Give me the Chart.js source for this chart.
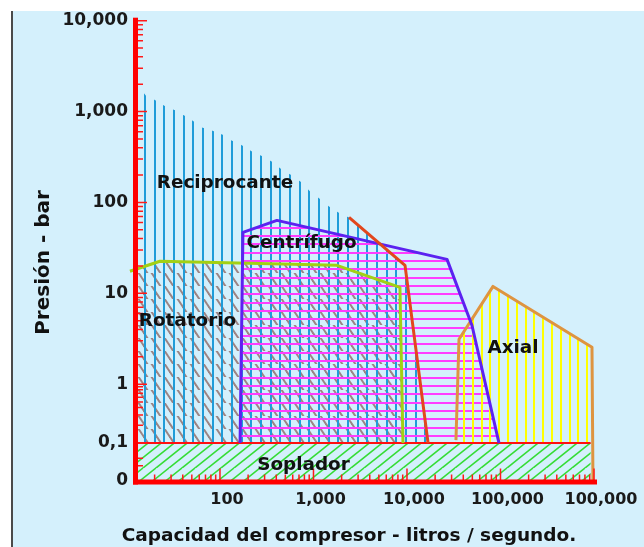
<!DOCTYPE html>
<html><head><meta charset="utf-8">
<script src="https://cdn.jsdelivr.net/npm/chart.js@4.4.1/dist/chart.umd.min.js"></script>
<style>html,body{margin:0;padding:0;background:#fff;overflow:hidden}canvas{display:block}</style>
</head><body>
<canvas id="c" width="644" height="547" style="width:644px;height:547px"></canvas>
<script>
// ---- axis ticks ----
const xTickValues = [100, 1000, 10000, 100000, 1000000];
const xTickLabels = ['100', '1,000', '10,000', '100,000', '100,000'];
const yTickValues = [0, 0.1, 1, 10, 100, 1000, 10000];
const yTickLabels = ['0', '0,1', '1', '10', '100', '1,000', '10,000'];

// ---- regions (capacity l/s, pressure bar) ----
const recipTopQ = [14.3, 16.4, 19.7, 26.2, 33.6, 49, 64.1, 82, 112, 133, 166, 220, 288, 357, 457, 589, 748, 919, 1146, 1466, 1919];
const recipTopP = [1745, 1462, 1355, 1135, 1025, 817, 667, 618, 545, 480, 434, 363, 320, 282, 231, 198, 166, 132, 111, 90.4, 75.7];
const recipLimitQ = [2400, 9530, 16800];
const recipLimitP = [68.4, 20.3, 0.1];
const centQ = [164, 176, 407, 26800, 49500, 96400];
const centP = [0.1, 46.8, 63.4, 23.6, 4.45, 0.1];
const rotQ = [10.9, 22.8, 1782, 8410, 9060];
const rotP = [17.5, 22.5, 20.3, 11.6, 0.1];
const axialQ = [33400, 36000, 83200, 952000, 975000];
const axialP = [0.112, 3.12, 11.9, 2.55, 0];
const soplQ = [12.49, 920000];
const soplP = [0, 0.1];

const regionNames = ['Reciprocante', 'Centrífugo', 'Rotatorio', 'Axial', 'Soplador'];
const regionLabelQ = [113, 745, 44.9, 136000, 782];
const regionLabelP = [142.5, 31.2, 4.34, 2.19, 0.0277];

// ---- pressure axis transform (log above 0.1, compressed, linear below 0.1) ----
function T(p) {
  if (p >= 1) return Math.log10(p);
  if (p >= 0.1) return Math.log10(p) * (59 / 91);
  return -(59 / 91) - (0.1 - p) / 0.1 * (38 / 91);
}
const XMIN = 12.49, XMAX = 1.077e6;
const YMIN = T(0), YMAX = 4.033;

const canvas = document.getElementById('c');
const ctx0 = canvas.getContext('2d');

function tile(w, h, draw) {
  const c = document.createElement('canvas'); c.width = w; c.height = h;
  draw(c.getContext('2d'), w, h); return c;
}
function pattern(c, tx, ty) {
  const p = ctx0.createPattern(c, 'repeat');
  p.setTransform(new DOMMatrix([1, 0, 0, 1, tx, ty]));
  return p;
}
function diagTile(period, n, slope, dir, color, width) {
  const W = period * n, H = Math.round(slope * W);
  return tile(W, H, (g) => {
    g.strokeStyle = color; g.lineWidth = width; g.lineCap = 'butt';
    for (let k = -n - 1; k <= 2 * n + 1; k++) {
      const x0 = k * period;
      g.beginPath();
      if (dir > 0) { g.moveTo(x0 - W, H + H); g.lineTo(x0 + W, H - H); }
      else { g.moveTo(x0 - W, -H); g.lineTo(x0 + W, 2 * H); }
      g.stroke();
    }
  });
}
const pBlue = pattern(tile(29, 4, (g, w, h) => { g.fillStyle = '#1f9cd9'; [0, 10, 19].forEach(x => g.fillRect(x, 0, 2, h)); }), 28, 0);
const pYellow = pattern(tile(44, 4, (g, w, h) => { g.fillStyle = '#ffff00'; [0, 9, 18, 26, 35].forEach(x => g.fillRect(x, 0, 2, h)); }), 23, 0);
const pMag = pattern(tile(4, 25, (g, w, h) => { g.fillStyle = '#ff3cff'; [0, 8, 17].forEach(y => g.fillRect(0, y, w, 2)); }), 0, 10);
const pGray = pattern(diagTile(13, 1, 1, -1, '#9c8484', 2), 0, 0);
const pGreen = pattern(diagTile(13, 5, 0.8, 1, '#35dc35', 1.6), 0, 0);

const pts = (qs, ps) => qs.map((q, i) => ({ x: q, y: T(ps[i]) }));

const recipPoly = [{ x: XMIN, y: T(0.1) }, { x: XMIN, y: T(recipTopP[0]) }, ...pts(recipTopQ, recipTopP), ...pts(recipLimitQ, recipLimitP), { x: XMIN, y: T(0.1) }];
const centPoly = [...pts(centQ, centP), { x: centQ[0], y: T(centP[0]) }];
const rotPoly = [...pts(rotQ, rotP), { x: rotQ[0], y: T(0.1) }, { x: rotQ[0], y: T(rotP[0]) }];
const axialPoly = [...pts(axialQ.slice(0, 4), axialP.slice(0, 4)), { x: axialQ[4], y: T(0.1) }, { x: axialQ[0], y: T(0.1) }, { x: axialQ[0], y: T(axialP[0]) }];
const soplPoly = [{ x: soplQ[0], y: T(soplP[0]) }, { x: soplQ[0], y: T(soplP[1]) }, { x: soplQ[1], y: T(soplP[1]) }, { x: soplQ[1], y: T(soplP[0]) }, { x: soplQ[0], y: T(soplP[0]) }];

function fillDs(data, bg, order) {
  return { data, showLine: true, fill: 'shape', backgroundColor: bg, borderWidth: 0, borderColor: 'rgba(0,0,0,0)', pointRadius: 0, tension: 0, order };
}
function lineDs(data, color, width, order, clip) {
  const d = { data, showLine: true, fill: false, borderColor: color, borderWidth: width, pointRadius: 0, tension: 0, order, borderJoinStyle: 'round' };
  if (clip) d.clip = clip;
  return d;
}

const datasets = [
  fillDs(soplPoly, pGreen, 20),
  fillDs(rotPoly, pGray, 19),
  fillDs(recipPoly, pBlue, 18),
  fillDs(centPoly, pMag, 17),
  fillDs(axialPoly, pYellow, 16),
  lineDs([{ x: soplQ[0], y: T(0.1) }, { x: soplQ[1], y: T(0.1) }], '#ff1010', 2, 10),
  lineDs(pts(rotQ, rotP), '#a2d014', 3, 9, { left: 8, top: 0, right: 0, bottom: 0 }),
  lineDs(pts(axialQ, axialP), '#de9440', 3, 8),
  lineDs(pts(centQ, centP), '#5c22f0', 3, 7),
  lineDs(pts(recipLimitQ, recipLimitP), '#e2461c', 3, 6),
];

const bgPlugin = {
  id: 'bg',
  beforeDraw(chart) {
    const c = chart.ctx;
    c.save();
    c.fillStyle = '#ffffff'; c.fillRect(0, 0, 644, 547);
    c.fillStyle = '#d4f0fc'; c.fillRect(13, 11, 631, 536);
    c.fillStyle = '#4a4a4a'; c.fillRect(11, 11, 2, 536);
    c.restore();
  }
};

const axesPlugin = {
  id: 'axes',
  afterDatasetsDraw(chart) {
    const c = chart.ctx, a = chart.chartArea, xs = chart.scales.x, ys = chart.scales.y;
    c.save();
    c.strokeStyle = '#ff1a1a'; c.lineWidth = 1.5;
    c.beginPath();
    for (let n = -1; n <= 3; n++) {
      for (let k = 1; k <= 9; k++) {
        const v = k * Math.pow(10, n);
        const py = ys.getPixelForValue(T(v));
        c.moveTo(a.left, py); c.lineTo(a.left + 2.5 + (k === 1 ? 9 : 5), py);
      }
    }
    [10000, 0.04, 0.06].forEach(v => { const py = ys.getPixelForValue(T(v)); c.moveTo(a.left, py); c.lineTo(a.left + 2.5 + (v === 10000 ? 9 : 5), py); });
    for (let n = 1; n <= 6; n++) {
      for (let k = 1; k <= 9; k++) {
        const v = k * Math.pow(10, n);
        if (v < XMIN || v > XMAX) continue;
        const px = xs.getPixelForValue(v);
        c.moveTo(px, a.bottom); c.lineTo(px, a.bottom - 1.5 - (k === 1 ? 11 : 5));
      }
    }
    c.stroke();
    c.fillStyle = '#ff0000';
    c.fillRect(a.left - 2.5, a.top, 5, a.bottom + 3.5 - a.top);
    c.fillRect(a.left - 2.5, a.bottom - 1.5, a.right - a.left + 2.5, 5);

    c.fillStyle = '#111111';
    c.font = 'bold 18.4px "DejaVu Sans"';
    c.textAlign = 'center'; c.textBaseline = 'alphabetic';
    regionNames.forEach((t, i) => {
      c.fillText(t, xs.getPixelForValue(regionLabelQ[i]), ys.getPixelForValue(T(regionLabelP[i])));
    });
    c.restore();
  },
  afterDraw(chart) {
    const c = chart.ctx;
    c.save();
    c.fillStyle = '#111111';
    c.textAlign = 'center'; c.textBaseline = 'middle';
    c.font = 'bold 20px "DejaVu Sans"';
    c.translate(43.5, 262.5); c.rotate(-Math.PI / 2);
    c.fillText('Presión - bar', 0, 0);
    c.restore();
    c.save();
    c.fillStyle = '#111111';
    c.textAlign = 'center'; c.textBaseline = 'alphabetic';
    c.font = 'bold 18.5px "DejaVu Sans"';
    c.fillText('Capacidad del compresor - litros / segundo.', 349, 541);
    c.restore();
  }
};

new Chart(canvas, {
  type: 'scatter',
  data: { datasets },
  options: {
    responsive: false, animation: false, devicePixelRatio: 1,
    layout: { padding: { left: 0, right: 47, top: 17, bottom: 0 } },
    plugins: { legend: { display: false }, tooltip: { enabled: false }, title: { display: false } },
    scales: {
      x: {
        type: 'logarithmic', min: XMIN, max: XMAX,
        grid: { display: false, drawTicks: false }, border: { display: false },
        afterFit(s) { s.height = 66; },
        afterBuildTicks(s) { s.ticks = xTickValues.map(v => ({ value: v })); },
        ticks: {
          callback: (v, i) => xTickLabels[i], autoSkip: false, maxRotation: 0, minRotation: 0,
          font: { family: 'DejaVu Sans', size: 16, weight: 'bold' }, color: '#1a1a1a', padding: 9, labelOffset: 7
        }
      },
      y: {
        type: 'linear', min: YMIN, max: YMAX,
        grid: { display: false, drawTicks: false }, border: { display: false },
        afterFit(s) { s.width = 135.5; },
        afterBuildTicks(s) { s.ticks = yTickValues.map(v => ({ value: T(v) })); },
        ticks: {
          callback: (v, i) => yTickLabels[i], autoSkip: false,
          font: { family: 'DejaVu Sans', size: 17, weight: 'bold' }, color: '#1a1a1a', padding: 7.5
        }
      }
    }
  },
  plugins: [bgPlugin, axesPlugin]
});
</script>
</body></html>
